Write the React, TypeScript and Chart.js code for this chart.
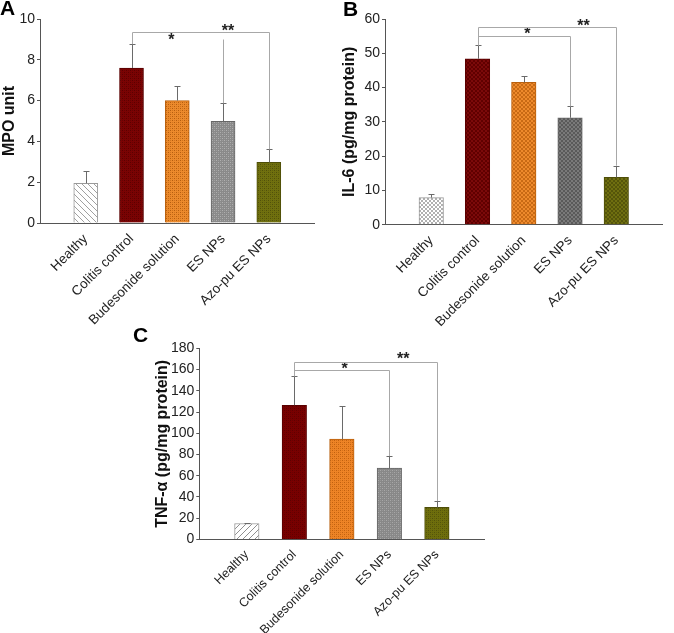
import React, { useEffect, useRef } from 'react';
import { Chart, registerables } from 'chart.js';

Chart.register(...registerables);

const FONT = 'Arial, "Liberation Sans", Helvetica, sans-serif';

// ---- data ----
const categories = ['Healthy', 'Colitis control', 'Budesonide solution', 'ES NPs', 'Azo-pu ES NPs'];

const mpoMean = [1.95, 7.6, 6.0, 4.98, 2.97];
const mpoErr = [0.6, 1.17, 0.74, 0.89, 0.64];
const mpoTicks = [0, 2, 4, 6, 8, 10];

const il6Mean = [7.9, 48.4, 41.5, 31.2, 13.8];
const il6Err = [1.0, 3.9, 1.8, 3.3, 3.4];
const il6Ticks = [0, 10, 20, 30, 40, 50, 60];

const tnfMean = [15.0, 126.4, 94.4, 67.2, 30.1];
const tnfErr = [0.8, 27.3, 31.4, 11.3, 6.0];
const tnfTicks = [0, 20, 40, 60, 80, 100, 120, 140, 160, 180];

// significance comparisons (category names, bracket level in data units)
const mpoSig = [
  { label: '*', from: 'Colitis control', to: 'ES NPs', level: 9.0, bar: false, textAt: 2.87, textLevel: 9.1 },
  { label: '**', from: 'Colitis control', to: 'Azo-pu ES NPs', level: 9.36, bar: true, textAt: 4.11, textLevel: 9.55 },
];
const il6Sig = [
  { label: '*', from: 'Colitis control', to: 'ES NPs', level: 55.1, bar: true, textAt: 3.08, textLevel: 56.2 },
  { label: '**', from: 'Colitis control', to: 'Azo-pu ES NPs', level: 57.8, bar: true, textAt: 4.29, textLevel: 58.8 },
];
const tnfSig = [
  { label: '*', from: 'Colitis control', to: 'ES NPs', level: 159.4, bar: true, textAt: 3.06, textLevel: 162.5 },
  { label: '**', from: 'Colitis control', to: 'Azo-pu ES NPs', level: 166.9, bar: true, textAt: 4.29, textLevel: 172.5 },
];

// ---- patterns ----
function makePattern(kind: string, base: string, accent: string): any {
  const c = document.createElement('canvas');
  const n = kind.startsWith('hatch') ? 6 : 4;
  c.width = n;
  c.height = n;
  const g = c.getContext('2d');
  if (!g) return base;
  g.fillStyle = base;
  g.fillRect(0, 0, n, n);
  g.fillStyle = accent;
  if (kind === 'hatchBack') {
    for (let i = 0; i < n; i++) g.fillRect(i, i, 1, 1);
  } else if (kind === 'hatchFwd') {
    for (let i = 0; i < n; i++) g.fillRect(n - 1 - i, i, 1, 1);
  } else if (kind === 'checker') {
    g.fillRect(0, 0, 2, 2);
    g.fillRect(2, 2, 2, 2);
  } else if (kind === 'dots') {
    g.fillRect(0, 0, 1, 1);
    g.fillRect(2, 2, 1, 1);
    g.globalAlpha = 0.5;
    g.fillRect(0, 2, 1, 1);
    g.fillRect(2, 0, 1, 1);
  }
  return g.createPattern(c, 'repeat') || base;
}

const annotPlugin = {
  id: 'annot',
  afterDatasetsDraw(chart: any, _args: any, opts: any) {
    const { ctx } = chart;
    const x = chart.scales.x;
    const y = chart.scales.y;
    const means: number[] = opts.means;
    const errs: number[] = opts.errs;
    const idx = (name: string) => categories.indexOf(name) + 1;
    const errTop = (name: string) => {
      const i = categories.indexOf(name);
      return means[i] + errs[i];
    };
    ctx.save();
    // error bars
    ctx.strokeStyle = '#6a6a6a';
    ctx.lineWidth = 1;
    means.forEach((m, i) => {
      const px = Math.round(x.getPixelForValue(i + 1)) + 0.5;
      const y0 = y.getPixelForValue(m);
      const y1 = Math.round(y.getPixelForValue(m + errs[i])) + 0.5;
      ctx.beginPath();
      ctx.moveTo(px, y0);
      ctx.lineTo(px, y1);
      ctx.moveTo(px - 3, y1);
      ctx.lineTo(px + 3, y1);
      ctx.stroke();
    });
    // significance brackets
    ctx.strokeStyle = '#a8a8a8';
    (opts.sig || []).forEach((s: any) => {
      const x0 = Math.round(x.getPixelForValue(idx(s.from))) + 0.5;
      const x1 = Math.round(x.getPixelForValue(idx(s.to))) + 0.5;
      const yl = Math.round(y.getPixelForValue(s.level)) + 0.5;
      ctx.beginPath();
      if (s.bar) {
        ctx.moveTo(x0, yl);
        ctx.lineTo(x1, yl);
      }
      ctx.moveTo(x0, yl);
      ctx.lineTo(x0, y.getPixelForValue(errTop(s.from)));
      ctx.moveTo(x1, yl);
      ctx.lineTo(x1, y.getPixelForValue(errTop(s.to)));
      ctx.stroke();
      ctx.fillStyle = '#222';
      ctx.font = 'bold 16px ' + FONT;
      ctx.textAlign = 'center';
      ctx.textBaseline = 'middle';
      ctx.fillText(s.label, x.getPixelForValue(s.textAt), y.getPixelForValue(s.textLevel) + 3);
    });
    ctx.restore();
  },
};

type PanelProps = {
  box: { left: number; top: number; width: number; height: number };
  padTop: number;
  padRight: number;
  yWidth: number;
  xHeight: number;
  titlePad: number;
  barWidth: number;
  xFont: number;
  means: number[];
  errs: number[];
  ticks: number[];
  title: string;
  sig: any[];
  fills: any[];
  borders: string[];
};

function Panel(p: PanelProps) {
  const ref = useRef<HTMLCanvasElement>(null);
  useEffect(() => {
    if (!ref.current) return;
    const labels = ['', ...categories, ''];
    const data = [null, ...p.means, null];
    const step = p.ticks[1] - p.ticks[0];
    const chart = new Chart(ref.current, {
      type: 'bar',
      data: {
        labels,
        datasets: [
          {
            data: data as any,
            backgroundColor: [null, ...p.fills, null] as any,
            borderColor: ['#000', ...p.borders, '#000'],
            borderWidth: 1,
            barThickness: p.barWidth,
          },
        ],
      },
      options: {
        responsive: false,
        animation: false,
        layout: { padding: { top: p.padTop, right: p.padRight, left: 0, bottom: 0 } },
        plugins: {
          legend: { display: false },
          tooltip: { enabled: false },
          annot: { means: p.means, errs: p.errs, sig: p.sig },
        } as any,
        scales: {
          x: {
            type: 'category',
            offset: false,
            grid: { display: false },
            border: { display: true, color: '#555', width: 1 },
            ticks: {
              autoSkip: false,
              maxRotation: 45,
              minRotation: 45,
              color: '#222',
              padding: 0,
              font: { family: FONT, size: p.xFont },
            },
            afterFit: (s: any) => {
              s.height = p.xHeight;
            },
          },
          y: {
            min: p.ticks[0],
            max: p.ticks[p.ticks.length - 1],
            ticks: {
              stepSize: step,
              color: '#222',
              padding: 2,
              font: { family: FONT, size: 14 },
            },
            grid: { drawOnChartArea: false, tickLength: 3, color: '#555' },
            border: { display: true, color: '#555', width: 1 },
            title: {
              display: true,
              text: p.title,
              color: '#111',
              font: { family: FONT, size: 16, weight: 'bold' },
              padding: { top: p.titlePad, bottom: 0 },
            },
            afterFit: (s: any) => {
              s.width = p.yWidth;
            },
          },
        },
      } as any,
      plugins: [annotPlugin],
    });
    return () => chart.destroy();
  }, []);
  return (
    <canvas
      ref={ref}
      width={p.box.width}
      height={p.box.height}
      style={{
        position: 'absolute',
        left: p.box.left,
        top: p.box.top,
        width: p.box.width,
        height: p.box.height,
      }}
    />
  );
}

const letterStyle = (left: number, top: number): React.CSSProperties => ({
  position: 'absolute',
  left,
  top,
  fontFamily: FONT,
  fontWeight: 'bold',
  fontSize: 21,
  lineHeight: '21px',
  color: '#000',
});

export default function App() {
  const fillsA = [
    makePattern('hatchBack', '#ffffff', '#a0a0a0'),
    makePattern('dots', '#7a0303', '#5a0000'),
    makePattern('dots', '#ec8a2c', '#b55d0e'),
    makePattern('dots', '#8a8a8a', '#b0b0b0'),
    makePattern('dots', '#70700e', '#50500a'),
  ];
  const fillsB = [
    makePattern('checker', '#ffffff', '#b0b0b0'),
    makePattern('checker', '#7c0a0a', '#600000'),
    makePattern('checker', '#ee8a2c', '#c86a14'),
    makePattern('checker', '#7a7a7a', '#5a5a5a'),
    makePattern('checker', '#6f6f10', '#55550a'),
  ];
  const fillsC = [
    makePattern('hatchFwd', '#ffffff', '#909090'),
    makePattern('dots', '#780000', '#5e0000'),
    makePattern('dots', '#ee8426', '#c0600e'),
    makePattern('dots', '#888888', '#a8a8a8'),
    makePattern('dots', '#6e6e0c', '#52520a'),
  ];
  const borders = ['#9a9a9a', '#5a0000', '#b8600e', '#666666', '#4e4e08'];
  return (
    <div style={{ position: 'absolute', left: 0, top: 0, width: 674, height: 633, background: '#fff', overflow: 'hidden' }}>
      <Panel
        box={{ left: 0, top: 0, width: 326, height: 332 }}
        padTop={19}
        padRight={6}
        yWidth={40}
        xHeight={109}
        titlePad={0}
        barWidth={24}
        xFont={13.5}
        means={mpoMean}
        errs={mpoErr}
        ticks={mpoTicks}
        title="MPO unit"
        sig={mpoSig}
        fills={fillsA}
        borders={borders}
      />
      <Panel
        box={{ left: 337, top: 0, width: 337, height: 332 }}
        padTop={19}
        padRight={2}
        yWidth={48}
        xHeight={107.3}
        titlePad={3.4}
        barWidth={24.5}
        xFont={13.5}
        means={il6Mean}
        errs={il6Err}
        ticks={il6Ticks}
        title="IL-6 (pg/mg protein)"
        sig={il6Sig}
        fills={fillsB}
        borders={borders}
      />
      <Panel
        box={{ left: 150, top: 320, width: 345, height: 313 }}
        padTop={28.3}
        padRight={2}
        yWidth={49.3}
        xHeight={93.6}
        titlePad={3.4}
        barWidth={24.5}
        xFont={12.5}
        means={tnfMean}
        errs={tnfErr}
        ticks={tnfTicks}
        title="TNF-α (pg/mg protein)"
        sig={tnfSig}
        fills={fillsC}
        borders={borders}
      />
      <div style={letterStyle(0, -3)}>A</div>
      <div style={letterStyle(343, -2)}>B</div>
      <div style={letterStyle(133, 324)}>C</div>
    </div>
  );
}
